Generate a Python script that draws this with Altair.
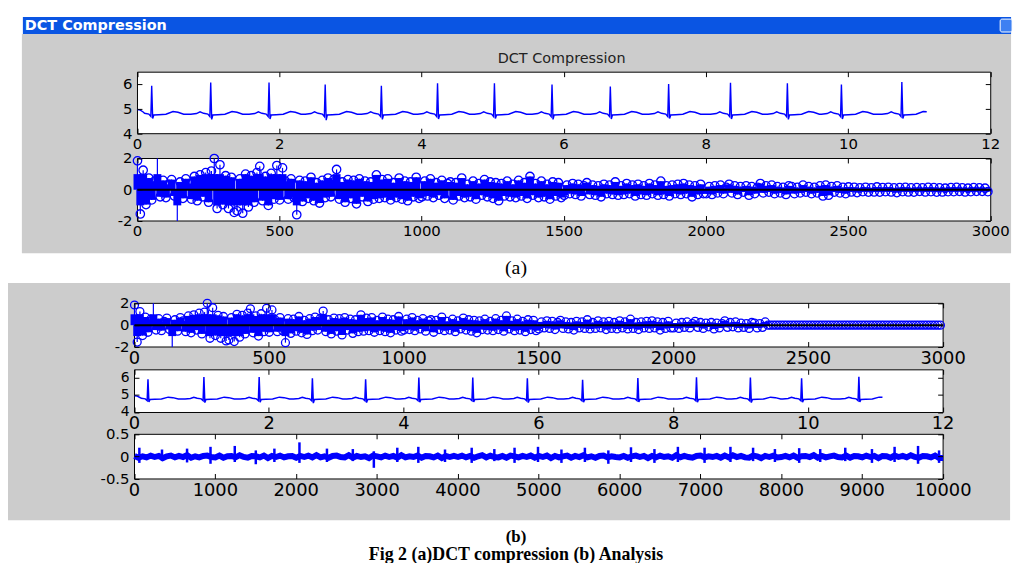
import altair as alt
import pandas as pd

FONT = "DejaVu Sans"
BLUE = "#0000ff"

# ---------------- values ----------------
# ECG trace (x in seconds): R-wave times, R peak levels and S dip levels
R_TIMES = [0.20, 1.03, 1.85, 2.64, 3.43, 4.22, 5.02, 5.83, 6.65, 7.47, 8.34, 9.14, 9.90, 10.75]
R_PEAKS = [5.95, 6.08, 6.08, 6.00, 5.95, 6.05, 6.05, 6.00, 5.92, 6.02, 6.07, 6.05, 6.00, 6.10]
S_DIPS = [4.62, 4.58, 4.60, 4.55, 4.58, 4.60, 4.62, 4.58, 4.60, 4.62, 4.60, 4.58, 4.60, 4.62]
# shape of one beat around its R wave (offset in s, level)
BEAT_OFFSETS = [-0.28, -0.20, -0.15, -0.10, -0.04, -0.012, 0.0, 0.014, 0.03, 0.10, 0.20, 0.30, 0.37, 0.45]
BEAT_LEVELS = [4.79, 4.82, 4.89, 4.83, 4.80, 4.70, "R", "S", 4.76, 4.77, 4.79, 4.90, 4.87, 4.79]
ECG_HEAD_T = [0.0, 0.04, 0.08]
ECG_HEAD_V = [4.98, 4.96, 4.88]
ECG_END_T = 11.10
ECG_END_V = 4.89

# DCT coefficients (every 10th index, value x100)
STEM_STEP = 10
STEM_CENTI = [
    185, -155, 125, -95, 75, -65, 55, 260, -45, 60,
    -50, 35, 65, -40, -260, 50, -55, 70, 40, -60,
    85, -70, 95, -45, 110, -80, 120, 200, -120, 160,
    -95, 90, -120, 80, -145, -135, 70, -150, 100, -110,
    90, -80, 110, 150, -70, 85, -100, 105, -60, 155,
    -65, 140, 55, -60, 70, -50, -160, 60, -75, 55,
    -55, 80, -70, 45, -85, 60, -50, 75, -45, 65,
    130, -60, 50, -80, 65, -55, 60, -90, 70, -45,
    55, -75, 50, -60, 95, -55, 65, -50, 70, -65,
    45, -50, 75, -60, 55, -70, 50, -45, 80, -55,
    -45, 55, -40, 70, -50, 45, -35, 60, -55, 40,
    50, -65, 45, -40, 75, -50, 35, -45, 55, -60,
    40, -35, 65, -45, 50, -55, 45, -70, 40, -40,
    55, -45, 35, -50, 60, -40, 45, -55, 85, -35,
    40, -50, 55, -45, 35, -60, 50, -40, 45, -50,
    -35, 30, -25, 40, -30, 35, -40, 25, 45, -30,
    30, -35, 25, -45, 35, -25, 30, -30, 50, -35,
    25, -30, 40, -25, 30, -40, 35, -30, 25, -35,
    40, -25, 30, -35, 55, -30, 25, -40, 30, -25,
    35, -30, 40, -25, 30, -45, 25, -30, 35, -25,
    -25, 20, -30, 25, -20, 30, -25, 15, 35, -20,
    25, -30, 20, -15, 25, -35, 20, -25, 15, 40,
    -20, 25, -15, 30, -25, 20, -20, 15, -30, 25,
    20, -25, 15, -20, 30, -15, 20, -25, 15, -20,
    25, -40, 30, -35, 20, -15, 25, -20, 15, -25,
    18, -14, 16, -18, 12, -12, 16, -15, 12, -14,
    18, -15, 14, -12, 16, -14, 12, -18, 14, -12,
    15, -14, 12, -15, 14, -10, 12, -14, 15, -12,
    14, -15, 12, -14, 10, -12, 14, -12, 15, -10,
    12, -14, 10, -12, 14, -10, 12, -10, 10, -12,
]
KEEP_B = 2350  # coefficients kept in the analysed (b) version
BODY_LIMIT = 1.0  # the dense solid part of the stem band

# reconstructed-difference signal (panel b, bottom): baseline every 50 samples (x100)
SIG_STEP = 50
NOISE_CENTI = [
    2, -3, 1, -2, 3, -1, 2, -4, 1, 3, -2, 2, -1, 4, -3, 1, -2, 2, 3, -1,
    -2, 3, -3, 1, 2, -2, 4, -1, -3, 2, 1, -2, 3, -4, 2, -1, 3, -2, 1, 2,
    -3, 2, -1, 3, -2, 4, -2, 1, -3, 2, 3, -1, -2, 4, -3, 2, -1, 1, -4, 3,
    1, -2, 3, -1, 2, -3, 4, -2, 1, -1, 3, -3, 2, 1, -2, 3, -4, 2, -1, 2,
    -1, 3, -2, 2, -3, 1, 4, -2, 3, -1, -2, 2, -3, 3, 1, -2, 2, -1, 3, -3,
    2, -1, 3, -4, 2, -2, 1, 3, -3, 2, -1, 4, -2, 1, -3, 2, 3, -2, 1, -1,
    -2, 2, -3, 1, 3, -1, 2, -4, 2, -2, 3, -1, 1, -3, 4, -2, 2, -1, -3, 2,
    3, -2, 1, -1, 2, -3, 3, -2, 4, -1, 2, -2, -3, 3, 1, -4, 2, -1, 3, -2,
    -1, 2, -2, 3, -3, 1, 2, -1, 4, -3, 2, -2, 1, 3, -1, -2, 3, -3, 2, 1,
    -2, 3, -1, 2, -4, 2, 1, -3, 3, -1, 2, -2, 4, -1, -3, 2, 1, -2, 3, -4,
]
NOISE_SCALE = 0.8
SPIKE_POS = [60, 340, 650, 940, 1240, 1500, 1730, 2040, 2380, 2700, 2960, 3250, 3510, 3840,
             4170, 4450, 4700, 4990, 5280, 5570, 5860, 6140, 6430, 6720, 7050, 7370, 7650,
             7920, 8220, 8480, 8790, 9120, 9400, 9690, 9950]
SPIKE_UP = [20, 16, 18, 22, 24, 14, 18, 32, 18, 17, 12, 20, 22, 16, 20, 17, 20, 22, 16, 20,
            14, 21, 17, 22, 20, 22, 20, 17, 19, 17, 20, 17, 22, 24, 14]
SPIKE_DOWN = [14, 10, 13, 16, 12, 17, 12, 14, 12, 10, 25, 12, 14, 12, 14, 10, 14, 12, 14, 12,
              16, 12, 14, 12, 14, 12, 10, 12, 14, 12, 10, 14, 12, 16, 14]

# ---------------- tables ----------------
pts = list(zip(ECG_HEAD_T, ECG_HEAD_V))
for t, rp, sd in zip(R_TIMES, R_PEAKS, S_DIPS):
    for off, lv in zip(BEAT_OFFSETS, BEAT_LEVELS):
        tt = round(t + off, 4)
        if tt <= ECG_HEAD_T[-1] or tt >= ECG_END_T:
            continue
        v = rp if lv == "R" else (sd if lv == "S" else lv)
        pts.append((tt, v))
pts.append((ECG_END_T, ECG_END_V))
pts.sort()
ecg_df = pd.DataFrame(pts, columns=["t", "v"])

stem_a = pd.DataFrame({"i": [k * STEM_STEP for k in range(len(STEM_CENTI))],
                       "v": [c / 100 for c in STEM_CENTI]})
stem_b = stem_a.copy()
stem_b.loc[stem_b["i"] >= KEEP_B, "v"] = 0.0
for d in (stem_a, stem_b):
    d["body"] = d["v"].clip(-BODY_LIMIT, BODY_LIMIT)

noise_df = pd.DataFrame({"n": [k * SIG_STEP for k in range(len(NOISE_CENTI))] + [10000],
                         "v": [NOISE_SCALE * c / 100 for c in NOISE_CENTI] + [-0.03]})
spike_df = pd.DataFrame({"n": SPIKE_POS, "up": [u / 100 for u in SPIKE_UP],
                         "down": [-d / 100 for d in SPIKE_DOWN]})

ONE = pd.DataFrame({"k": [0]})

# ---------------- layout (chart pixels) ----------------
W, H = 1020, 555
T = 5


def rect(x, x2, y, y2, **kw):
    return alt.Chart(ONE).mark_rect(**kw).encode(
        x=alt.value(x), x2=alt.value(x2), y=alt.value(y), y2=alt.value(y2))


def text(s, x, y, **kw):
    return alt.Chart(ONE).mark_text(text=s, **kw).encode(x=alt.value(x), y=alt.value(y))


def panel(box, xdom, ydom, xticks, yticks, fsx, fsy, data_fn, clamp=False):
    left, right, top, bottom = box
    xs = alt.Scale(domain=xdom, range=[left, right], nice=False, zero=False)
    ys = alt.Scale(domain=ydom, range=[bottom, top], nice=False, zero=False, clamp=clamp)
    common = dict(labelFont=FONT, labelColor="black", tickColor="black",
                  tickWidth=1, tickSize=T, domain=False, grid=False, title=None, translate=0,
                  labelOverlap=False, labelFlush=False, labelBound=False, zindex=1,
                  labelExpr="datum.value + ''")
    ax_b = alt.Axis(orient="bottom", offset=bottom - T - H, values=xticks, labelPadding=3,
                    labelFontSize=fsx, **common)
    ax_l = alt.Axis(orient="left", offset=-(left + T), values=yticks, labelPadding=5,
                    labelBaseline="middle", labelFontSize=fsy, **common)
    ax_t = alt.Axis(orient="top", offset=-(top + T), values=xticks, labels=False, **common)
    ax_r = alt.Axis(orient="right", offset=right - T - W, values=yticks, labels=False, **common)
    frame = alt.Chart(ONE).mark_rect(fill="white", stroke="black", strokeWidth=1).encode(
        x=alt.XDatum(xdom[0], type="quantitative", scale=xs, axis=ax_b),
        x2=alt.X2Datum(xdom[1]),
        y=alt.YDatum(ydom[0], type="quantitative", scale=ys, axis=ax_l),
        y2=alt.Y2Datum(ydom[1]),
    )
    mirror = alt.Chart(ONE).mark_rect(opacity=0).encode(
        x=alt.XDatum(xdom[0], type="quantitative", scale=xs, axis=ax_t),
        x2=alt.X2Datum(xdom[1]),
        y=alt.YDatum(ydom[0], type="quantitative", scale=ys, axis=ax_r),
        y2=alt.Y2Datum(ydom[1]),
    )
    return [frame] + data_fn(xs, ys) + [mirror]


def ecg_fn(sw):
    def f(xs, ys):
        return [alt.Chart(ecg_df).mark_line(color=BLUE, strokeWidth=sw).encode(
            x=alt.X("t:Q", scale=xs, axis=None), y=alt.Y("v:Q", scale=ys, axis=None))]
    return f


def stem_fn(df, size, sw):
    def f(xs, ys):
        body = alt.Chart(df).mark_rule(color=BLUE, strokeWidth=sw).encode(
            x=alt.X("i:Q", scale=xs, axis=None),
            y=alt.Y("body:Q", scale=ys, axis=None),
            y2=alt.Y2Datum(0))
        spine = alt.Chart(df).mark_rule(color=BLUE, strokeWidth=1.2).encode(
            x=alt.X("i:Q", scale=xs, axis=None),
            y=alt.Y("v:Q", scale=ys, axis=None),
            y2=alt.Y2Datum(0))
        circles = alt.Chart(df).transform_filter("abs(datum.v) <= 2").mark_point(
            shape="circle", size=size, filled=False, color=BLUE, strokeWidth=1.3, opacity=1).encode(
            x=alt.X("i:Q", scale=xs, axis=None),
            y=alt.Y("v:Q", scale=ys, axis=None))
        base = alt.Chart(ONE).mark_rule(color="black", strokeWidth=2).encode(
            x=alt.XDatum(0, type="quantitative", scale=xs, axis=None),
            x2=alt.X2Datum(3000),
            y=alt.YDatum(0, type="quantitative", scale=ys, axis=None))
        return [body, spine, circles, base]
    return f


def sig_fn(xs, ys):
    band = alt.Chart(noise_df).mark_line(color=BLUE, strokeWidth=6).encode(
        x=alt.X("n:Q", scale=xs, axis=None), y=alt.Y("v:Q", scale=ys, axis=None))
    spikes = alt.Chart(spike_df).mark_rule(color=BLUE, strokeWidth=2.5).encode(
        x=alt.X("n:Q", scale=xs, axis=None), y=alt.Y("up:Q", scale=ys, axis=None),
        y2="down:Q")
    return [band, spikes]


layers = [
    # window (a)
    rect(14, 1011, 24, 245, fill="#cccccc"),
    rect(15, 1011, 7, 24, fill="#0a55e3"),
    rect(1000, 1012, 9, 22, fill="#3d80f2", stroke="white", strokeWidth=1, cornerRadius=2),
    text("DCT Compression", 17, 15.5, font=FONT, fontWeight="bold", fontSize=14.5,
         color="white", align="left", baseline="middle"),
    text("DCT Compression", 558, 49, font=FONT, fontSize=14.5, color="#222222",
         align="center", baseline="middle"),
    # window (b)
    rect(0, 1010, 275, 514, fill="#cccccc"),
    # captions
    text("(a)", 512, 260, font="Liberation Serif", fontSize=20, color="black",
         align="center", baseline="middle"),
    text("(b)", 512, 531, font="Liberation Serif", fontSize=17, fontWeight="bold",
         color="black", align="center", baseline="middle"),
    text("Fig 2 (a)DCT compression (b) Analysis", 512, 549.5, font="Liberation Serif",
         fontSize=18, fontWeight="bold", color="black", align="center", baseline="middle"),
]

layers += panel((130.5, 990.5, 62.5, 124.5), [0, 12], [4, 6.5], list(range(0, 13, 2)), [4, 5, 6],
                15, 15, ecg_fn(1.4))
layers += panel((130.5, 990.5, 149.5, 212.5), [0, 3000], [-2, 2], list(range(0, 3001, 500)),
                [-2, 0, 2], 15, 15, stem_fn(stem_a, 72, 8), clamp=True)
layers += panel((127.5, 942.5, 295.5, 339.5), [0, 3000], [-2, 2], list(range(0, 3001, 500)),
                [-2, 0, 2], 18, 15, stem_fn(stem_b, 64, 8), clamp=True)
layers += panel((127.5, 942.5, 362.5, 405.5), [0, 12], [4, 6.5], list(range(0, 13, 2)), [4, 5, 6],
                18, 14, ecg_fn(1.5))
layers += panel((127.5, 942.5, 427.5, 472.5), [0, 10000], [-0.5, 0.5], list(range(0, 10001, 1000)),
                [-0.5, 0, 0.5], 18, 15, sig_fn)

chart = alt.layer(*layers).resolve_scale(x="independent", y="independent").properties(
    width=W, height=H, autosize=alt.AutoSizeParams(type="none"), padding=0, background="white"
).configure_view(stroke=None)

chart.save("out.html", embed_options={"renderer": "svg", "actions": False})
